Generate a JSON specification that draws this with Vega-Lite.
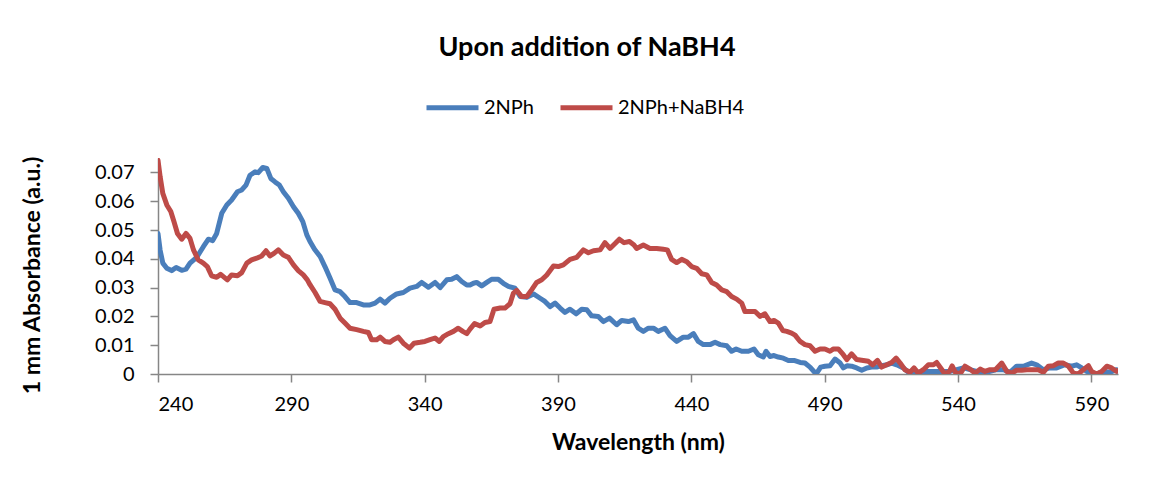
{
  "$schema": "https://vega.github.io/schema/vega-lite/v6.json",
  "autosize": "none",
  "width": 960,
  "height": 216,
  "padding": {"left": 158, "top": 158, "right": 33, "bottom": 111},
  "background": "white",
  "title": {
    "text": "Upon addition of NaBH4",
    "font": "Lato",
    "fontSize": 27,
    "fontWeight": "bold",
    "color": "#000000",
    "anchor": "middle",
    "frame": "group",
    "dx": -51,
    "offset": 17
  },
  "datasets": {
    "spectra": [
      {"w": 240, "a": 0.0488, "s": "2NPh"},
      {"w": 240.8, "a": 0.043, "s": "2NPh"},
      {"w": 241.8, "a": 0.0385, "s": "2NPh"},
      {"w": 243.3, "a": 0.0367, "s": "2NPh"},
      {"w": 245.1, "a": 0.0359, "s": "2NPh"},
      {"w": 246.8, "a": 0.037, "s": "2NPh"},
      {"w": 248.9, "a": 0.036, "s": "2NPh"},
      {"w": 250.5, "a": 0.0364, "s": "2NPh"},
      {"w": 252, "a": 0.0385, "s": "2NPh"},
      {"w": 254.5, "a": 0.0405, "s": "2NPh"},
      {"w": 257, "a": 0.0442, "s": "2NPh"},
      {"w": 258.9, "a": 0.0468, "s": "2NPh"},
      {"w": 260.5, "a": 0.0463, "s": "2NPh"},
      {"w": 262, "a": 0.0488, "s": "2NPh"},
      {"w": 263.9, "a": 0.0558, "s": "2NPh"},
      {"w": 265.8, "a": 0.0587, "s": "2NPh"},
      {"w": 267.6, "a": 0.0604, "s": "2NPh"},
      {"w": 269.8, "a": 0.0633, "s": "2NPh"},
      {"w": 271.4, "a": 0.0639, "s": "2NPh"},
      {"w": 273, "a": 0.0656, "s": "2NPh"},
      {"w": 274.5, "a": 0.069, "s": "2NPh"},
      {"w": 276.4, "a": 0.0702, "s": "2NPh"},
      {"w": 277.6, "a": 0.0699, "s": "2NPh"},
      {"w": 279.3, "a": 0.0717, "s": "2NPh"},
      {"w": 280.8, "a": 0.0714, "s": "2NPh"},
      {"w": 282.3, "a": 0.0679, "s": "2NPh"},
      {"w": 283.9, "a": 0.0667, "s": "2NPh"},
      {"w": 285.5, "a": 0.0656, "s": "2NPh"},
      {"w": 287, "a": 0.0633, "s": "2NPh"},
      {"w": 288.9, "a": 0.061, "s": "2NPh"},
      {"w": 290.8, "a": 0.0581, "s": "2NPh"},
      {"w": 292.6, "a": 0.0558, "s": "2NPh"},
      {"w": 294.3, "a": 0.0529, "s": "2NPh"},
      {"w": 295.8, "a": 0.0483, "s": "2NPh"},
      {"w": 297, "a": 0.046, "s": "2NPh"},
      {"w": 298.7, "a": 0.0433, "s": "2NPh"},
      {"w": 300.8, "a": 0.0408, "s": "2NPh"},
      {"w": 302.6, "a": 0.0373, "s": "2NPh"},
      {"w": 304.5, "a": 0.0333, "s": "2NPh"},
      {"w": 306.4, "a": 0.0292, "s": "2NPh"},
      {"w": 308.3, "a": 0.0286, "s": "2NPh"},
      {"w": 310.1, "a": 0.0269, "s": "2NPh"},
      {"w": 312, "a": 0.0248, "s": "2NPh"},
      {"w": 314.5, "a": 0.0248, "s": "2NPh"},
      {"w": 317, "a": 0.024, "s": "2NPh"},
      {"w": 319.5, "a": 0.024, "s": "2NPh"},
      {"w": 321.4, "a": 0.0246, "s": "2NPh"},
      {"w": 323.3, "a": 0.026, "s": "2NPh"},
      {"w": 325.1, "a": 0.0246, "s": "2NPh"},
      {"w": 327, "a": 0.0263, "s": "2NPh"},
      {"w": 329.5, "a": 0.0278, "s": "2NPh"},
      {"w": 332, "a": 0.0283, "s": "2NPh"},
      {"w": 334.5, "a": 0.0298, "s": "2NPh"},
      {"w": 337, "a": 0.0304, "s": "2NPh"},
      {"w": 338.9, "a": 0.0318, "s": "2NPh"},
      {"w": 341.4, "a": 0.0301, "s": "2NPh"},
      {"w": 343.9, "a": 0.0318, "s": "2NPh"},
      {"w": 345.8, "a": 0.03, "s": "2NPh"},
      {"w": 348.3, "a": 0.0327, "s": "2NPh"},
      {"w": 350.1, "a": 0.0329, "s": "2NPh"},
      {"w": 352, "a": 0.0338, "s": "2NPh"},
      {"w": 353.9, "a": 0.0321, "s": "2NPh"},
      {"w": 355.8, "a": 0.0309, "s": "2NPh"},
      {"w": 357, "a": 0.0309, "s": "2NPh"},
      {"w": 358.3, "a": 0.0315, "s": "2NPh"},
      {"w": 359.5, "a": 0.0318, "s": "2NPh"},
      {"w": 361.4, "a": 0.0306, "s": "2NPh"},
      {"w": 363.3, "a": 0.0318, "s": "2NPh"},
      {"w": 365.1, "a": 0.0329, "s": "2NPh"},
      {"w": 367.6, "a": 0.0329, "s": "2NPh"},
      {"w": 369.5, "a": 0.0315, "s": "2NPh"},
      {"w": 371.4, "a": 0.0304, "s": "2NPh"},
      {"w": 373.9, "a": 0.0298, "s": "2NPh"},
      {"w": 375.8, "a": 0.0269, "s": "2NPh"},
      {"w": 378.3, "a": 0.0266, "s": "2NPh"},
      {"w": 380.8, "a": 0.0278, "s": "2NPh"},
      {"w": 383.3, "a": 0.0263, "s": "2NPh"},
      {"w": 385.1, "a": 0.0252, "s": "2NPh"},
      {"w": 387, "a": 0.0234, "s": "2NPh"},
      {"w": 388.9, "a": 0.0246, "s": "2NPh"},
      {"w": 390.8, "a": 0.0229, "s": "2NPh"},
      {"w": 392.6, "a": 0.0214, "s": "2NPh"},
      {"w": 394.5, "a": 0.0225, "s": "2NPh"},
      {"w": 396.8, "a": 0.0209, "s": "2NPh"},
      {"w": 398.9, "a": 0.0225, "s": "2NPh"},
      {"w": 400.8, "a": 0.0223, "s": "2NPh"},
      {"w": 402.6, "a": 0.0202, "s": "2NPh"},
      {"w": 405.1, "a": 0.02, "s": "2NPh"},
      {"w": 407, "a": 0.0182, "s": "2NPh"},
      {"w": 409.3, "a": 0.0194, "s": "2NPh"},
      {"w": 412, "a": 0.0171, "s": "2NPh"},
      {"w": 413.9, "a": 0.0186, "s": "2NPh"},
      {"w": 416.4, "a": 0.0182, "s": "2NPh"},
      {"w": 418.3, "a": 0.0188, "s": "2NPh"},
      {"w": 420.1, "a": 0.0159, "s": "2NPh"},
      {"w": 422, "a": 0.0148, "s": "2NPh"},
      {"w": 423.9, "a": 0.0159, "s": "2NPh"},
      {"w": 425.8, "a": 0.0159, "s": "2NPh"},
      {"w": 427.6, "a": 0.0148, "s": "2NPh"},
      {"w": 430.1, "a": 0.0159, "s": "2NPh"},
      {"w": 432, "a": 0.0133, "s": "2NPh"},
      {"w": 434.5, "a": 0.0113, "s": "2NPh"},
      {"w": 437, "a": 0.0128, "s": "2NPh"},
      {"w": 438.9, "a": 0.0128, "s": "2NPh"},
      {"w": 440.8, "a": 0.014, "s": "2NPh"},
      {"w": 442.6, "a": 0.0113, "s": "2NPh"},
      {"w": 444.5, "a": 0.0102, "s": "2NPh"},
      {"w": 447, "a": 0.0102, "s": "2NPh"},
      {"w": 448.9, "a": 0.011, "s": "2NPh"},
      {"w": 450.8, "a": 0.0102, "s": "2NPh"},
      {"w": 453.3, "a": 0.0098, "s": "2NPh"},
      {"w": 455.1, "a": 0.0079, "s": "2NPh"},
      {"w": 456.8, "a": 0.0087, "s": "2NPh"},
      {"w": 458.9, "a": 0.0079, "s": "2NPh"},
      {"w": 461.4, "a": 0.0079, "s": "2NPh"},
      {"w": 463.5, "a": 0.0087, "s": "2NPh"},
      {"w": 465.1, "a": 0.0067, "s": "2NPh"},
      {"w": 467, "a": 0.0059, "s": "2NPh"},
      {"w": 468, "a": 0.0079, "s": "2NPh"},
      {"w": 469.5, "a": 0.0061, "s": "2NPh"},
      {"w": 471, "a": 0.0064, "s": "2NPh"},
      {"w": 472.6, "a": 0.0059, "s": "2NPh"},
      {"w": 474.5, "a": 0.0055, "s": "2NPh"},
      {"w": 476.4, "a": 0.0047, "s": "2NPh"},
      {"w": 478.5, "a": 0.0047, "s": "2NPh"},
      {"w": 480.8, "a": 0.004, "s": "2NPh"},
      {"w": 482.6, "a": 0.0038, "s": "2NPh"},
      {"w": 484.5, "a": 0.0024, "s": "2NPh"},
      {"w": 486.8, "a": 0.0, "s": "2NPh"},
      {"w": 488.5, "a": 0.0024, "s": "2NPh"},
      {"w": 490.1, "a": 0.0027, "s": "2NPh"},
      {"w": 492, "a": 0.0029, "s": "2NPh"},
      {"w": 493.9, "a": 0.0052, "s": "2NPh"},
      {"w": 495.8, "a": 0.0038, "s": "2NPh"},
      {"w": 497, "a": 0.0021, "s": "2NPh"},
      {"w": 498.5, "a": 0.0029, "s": "2NPh"},
      {"w": 500.1, "a": 0.0027, "s": "2NPh"},
      {"w": 502, "a": 0.0021, "s": "2NPh"},
      {"w": 503.9, "a": 0.0013, "s": "2NPh"},
      {"w": 505.8, "a": 0.0021, "s": "2NPh"},
      {"w": 507.6, "a": 0.0024, "s": "2NPh"},
      {"w": 509.5, "a": 0.0024, "s": "2NPh"},
      {"w": 511.4, "a": 0.0029, "s": "2NPh"},
      {"w": 513.3, "a": 0.0032, "s": "2NPh"},
      {"w": 515.1, "a": 0.0038, "s": "2NPh"},
      {"w": 517, "a": 0.0032, "s": "2NPh"},
      {"w": 519.5, "a": 0.0021, "s": "2NPh"},
      {"w": 521.4, "a": 0.0006, "s": "2NPh"},
      {"w": 523.3, "a": 0.0009, "s": "2NPh"},
      {"w": 525.1, "a": 0.0006, "s": "2NPh"},
      {"w": 527, "a": 0.0009, "s": "2NPh"},
      {"w": 529.5, "a": 0.0009, "s": "2NPh"},
      {"w": 532, "a": 0.0009, "s": "2NPh"},
      {"w": 534.5, "a": 0.0009, "s": "2NPh"},
      {"w": 537, "a": 0.0009, "s": "2NPh"},
      {"w": 539.5, "a": 0.0015, "s": "2NPh"},
      {"w": 542, "a": 0.0021, "s": "2NPh"},
      {"w": 544.5, "a": 0.0015, "s": "2NPh"},
      {"w": 547, "a": 0.0009, "s": "2NPh"},
      {"w": 549.5, "a": 0.0009, "s": "2NPh"},
      {"w": 552, "a": 0.0009, "s": "2NPh"},
      {"w": 554.5, "a": 0.0015, "s": "2NPh"},
      {"w": 557, "a": 0.0015, "s": "2NPh"},
      {"w": 559.5, "a": 0.0006, "s": "2NPh"},
      {"w": 562, "a": 0.0027, "s": "2NPh"},
      {"w": 564.5, "a": 0.0027, "s": "2NPh"},
      {"w": 567.6, "a": 0.0038, "s": "2NPh"},
      {"w": 569.5, "a": 0.0032, "s": "2NPh"},
      {"w": 572, "a": 0.0015, "s": "2NPh"},
      {"w": 574.5, "a": 0.0021, "s": "2NPh"},
      {"w": 577, "a": 0.0021, "s": "2NPh"},
      {"w": 580.1, "a": 0.0032, "s": "2NPh"},
      {"w": 582.6, "a": 0.0027, "s": "2NPh"},
      {"w": 584.5, "a": 0.0032, "s": "2NPh"},
      {"w": 586.4, "a": 0.0021, "s": "2NPh"},
      {"w": 588.3, "a": 0.0009, "s": "2NPh"},
      {"w": 590.1, "a": 0.0003, "s": "2NPh"},
      {"w": 592, "a": 0.0, "s": "2NPh"},
      {"w": 594.5, "a": 0.0009, "s": "2NPh"},
      {"w": 597, "a": 0.0006, "s": "2NPh"},
      {"w": 599.5, "a": 0.0015, "s": "2NPh"},
      {"w": 600, "a": 0.001, "s": "2NPh"},

      {"w": 240, "a": 0.0742, "s": "2NPh+NaBH4"},
      {"w": 240.8, "a": 0.0685, "s": "2NPh+NaBH4"},
      {"w": 241.8, "a": 0.0627, "s": "2NPh+NaBH4"},
      {"w": 243.3, "a": 0.0587, "s": "2NPh+NaBH4"},
      {"w": 244.8, "a": 0.0564, "s": "2NPh+NaBH4"},
      {"w": 246, "a": 0.0529, "s": "2NPh+NaBH4"},
      {"w": 247.3, "a": 0.0488, "s": "2NPh+NaBH4"},
      {"w": 248.9, "a": 0.0468, "s": "2NPh+NaBH4"},
      {"w": 250.5, "a": 0.0488, "s": "2NPh+NaBH4"},
      {"w": 252, "a": 0.0471, "s": "2NPh+NaBH4"},
      {"w": 253.3, "a": 0.0431, "s": "2NPh+NaBH4"},
      {"w": 255.1, "a": 0.0396, "s": "2NPh+NaBH4"},
      {"w": 257, "a": 0.0385, "s": "2NPh+NaBH4"},
      {"w": 258.5, "a": 0.0373, "s": "2NPh+NaBH4"},
      {"w": 260.1, "a": 0.0341, "s": "2NPh+NaBH4"},
      {"w": 262, "a": 0.0336, "s": "2NPh+NaBH4"},
      {"w": 263.5, "a": 0.0346, "s": "2NPh+NaBH4"},
      {"w": 266, "a": 0.0327, "s": "2NPh+NaBH4"},
      {"w": 267.6, "a": 0.0344, "s": "2NPh+NaBH4"},
      {"w": 269.8, "a": 0.0341, "s": "2NPh+NaBH4"},
      {"w": 271.4, "a": 0.0352, "s": "2NPh+NaBH4"},
      {"w": 273.3, "a": 0.0385, "s": "2NPh+NaBH4"},
      {"w": 275.1, "a": 0.0396, "s": "2NPh+NaBH4"},
      {"w": 277, "a": 0.0402, "s": "2NPh+NaBH4"},
      {"w": 278.9, "a": 0.041, "s": "2NPh+NaBH4"},
      {"w": 280.5, "a": 0.0428, "s": "2NPh+NaBH4"},
      {"w": 282, "a": 0.041, "s": "2NPh+NaBH4"},
      {"w": 283.5, "a": 0.0419, "s": "2NPh+NaBH4"},
      {"w": 285.1, "a": 0.0431, "s": "2NPh+NaBH4"},
      {"w": 287, "a": 0.0413, "s": "2NPh+NaBH4"},
      {"w": 288.9, "a": 0.0405, "s": "2NPh+NaBH4"},
      {"w": 290.8, "a": 0.0379, "s": "2NPh+NaBH4"},
      {"w": 292.6, "a": 0.0359, "s": "2NPh+NaBH4"},
      {"w": 294.5, "a": 0.0344, "s": "2NPh+NaBH4"},
      {"w": 296, "a": 0.0327, "s": "2NPh+NaBH4"},
      {"w": 297, "a": 0.031, "s": "2NPh+NaBH4"},
      {"w": 298.9, "a": 0.0283, "s": "2NPh+NaBH4"},
      {"w": 300.8, "a": 0.0252, "s": "2NPh+NaBH4"},
      {"w": 302.6, "a": 0.0248, "s": "2NPh+NaBH4"},
      {"w": 304.5, "a": 0.0244, "s": "2NPh+NaBH4"},
      {"w": 306.4, "a": 0.0225, "s": "2NPh+NaBH4"},
      {"w": 308.3, "a": 0.0194, "s": "2NPh+NaBH4"},
      {"w": 310.1, "a": 0.0177, "s": "2NPh+NaBH4"},
      {"w": 312, "a": 0.0159, "s": "2NPh+NaBH4"},
      {"w": 314.5, "a": 0.0154, "s": "2NPh+NaBH4"},
      {"w": 317, "a": 0.0148, "s": "2NPh+NaBH4"},
      {"w": 318.9, "a": 0.0144, "s": "2NPh+NaBH4"},
      {"w": 320.1, "a": 0.0119, "s": "2NPh+NaBH4"},
      {"w": 322, "a": 0.0119, "s": "2NPh+NaBH4"},
      {"w": 323.3, "a": 0.0128, "s": "2NPh+NaBH4"},
      {"w": 325.1, "a": 0.0113, "s": "2NPh+NaBH4"},
      {"w": 327, "a": 0.011, "s": "2NPh+NaBH4"},
      {"w": 328.3, "a": 0.0119, "s": "2NPh+NaBH4"},
      {"w": 330.1, "a": 0.0128, "s": "2NPh+NaBH4"},
      {"w": 332, "a": 0.0107, "s": "2NPh+NaBH4"},
      {"w": 334.3, "a": 0.009, "s": "2NPh+NaBH4"},
      {"w": 336, "a": 0.0107, "s": "2NPh+NaBH4"},
      {"w": 338.3, "a": 0.011, "s": "2NPh+NaBH4"},
      {"w": 340.1, "a": 0.0113, "s": "2NPh+NaBH4"},
      {"w": 342, "a": 0.0119, "s": "2NPh+NaBH4"},
      {"w": 343.9, "a": 0.0125, "s": "2NPh+NaBH4"},
      {"w": 345.5, "a": 0.0113, "s": "2NPh+NaBH4"},
      {"w": 347, "a": 0.013, "s": "2NPh+NaBH4"},
      {"w": 348.9, "a": 0.014, "s": "2NPh+NaBH4"},
      {"w": 350.8, "a": 0.0148, "s": "2NPh+NaBH4"},
      {"w": 352.6, "a": 0.0159, "s": "2NPh+NaBH4"},
      {"w": 354.3, "a": 0.0148, "s": "2NPh+NaBH4"},
      {"w": 355.8, "a": 0.014, "s": "2NPh+NaBH4"},
      {"w": 357, "a": 0.0156, "s": "2NPh+NaBH4"},
      {"w": 358.7, "a": 0.0175, "s": "2NPh+NaBH4"},
      {"w": 360.8, "a": 0.0167, "s": "2NPh+NaBH4"},
      {"w": 362.6, "a": 0.0179, "s": "2NPh+NaBH4"},
      {"w": 364.5, "a": 0.0182, "s": "2NPh+NaBH4"},
      {"w": 366, "a": 0.0225, "s": "2NPh+NaBH4"},
      {"w": 368.3, "a": 0.0229, "s": "2NPh+NaBH4"},
      {"w": 370.1, "a": 0.0229, "s": "2NPh+NaBH4"},
      {"w": 372, "a": 0.0244, "s": "2NPh+NaBH4"},
      {"w": 373.3, "a": 0.0281, "s": "2NPh+NaBH4"},
      {"w": 374.5, "a": 0.029, "s": "2NPh+NaBH4"},
      {"w": 376.4, "a": 0.0269, "s": "2NPh+NaBH4"},
      {"w": 378.3, "a": 0.0269, "s": "2NPh+NaBH4"},
      {"w": 380.1, "a": 0.0292, "s": "2NPh+NaBH4"},
      {"w": 382, "a": 0.0318, "s": "2NPh+NaBH4"},
      {"w": 383.9, "a": 0.0327, "s": "2NPh+NaBH4"},
      {"w": 385.8, "a": 0.0344, "s": "2NPh+NaBH4"},
      {"w": 388.3, "a": 0.0375, "s": "2NPh+NaBH4"},
      {"w": 390.1, "a": 0.0373, "s": "2NPh+NaBH4"},
      {"w": 392, "a": 0.0379, "s": "2NPh+NaBH4"},
      {"w": 394.5, "a": 0.0398, "s": "2NPh+NaBH4"},
      {"w": 397, "a": 0.0405, "s": "2NPh+NaBH4"},
      {"w": 399.5, "a": 0.0431, "s": "2NPh+NaBH4"},
      {"w": 401.4, "a": 0.0421, "s": "2NPh+NaBH4"},
      {"w": 403.3, "a": 0.0428, "s": "2NPh+NaBH4"},
      {"w": 405.8, "a": 0.0431, "s": "2NPh+NaBH4"},
      {"w": 407.6, "a": 0.0456, "s": "2NPh+NaBH4"},
      {"w": 409.5, "a": 0.0436, "s": "2NPh+NaBH4"},
      {"w": 411.4, "a": 0.0453, "s": "2NPh+NaBH4"},
      {"w": 413, "a": 0.0468, "s": "2NPh+NaBH4"},
      {"w": 414.8, "a": 0.0456, "s": "2NPh+NaBH4"},
      {"w": 416.8, "a": 0.046, "s": "2NPh+NaBH4"},
      {"w": 418.5, "a": 0.0448, "s": "2NPh+NaBH4"},
      {"w": 419.5, "a": 0.0436, "s": "2NPh+NaBH4"},
      {"w": 422, "a": 0.0448, "s": "2NPh+NaBH4"},
      {"w": 424.5, "a": 0.0436, "s": "2NPh+NaBH4"},
      {"w": 427, "a": 0.0436, "s": "2NPh+NaBH4"},
      {"w": 429.5, "a": 0.0433, "s": "2NPh+NaBH4"},
      {"w": 431, "a": 0.0431, "s": "2NPh+NaBH4"},
      {"w": 432.6, "a": 0.0398, "s": "2NPh+NaBH4"},
      {"w": 434.5, "a": 0.0387, "s": "2NPh+NaBH4"},
      {"w": 436.4, "a": 0.0398, "s": "2NPh+NaBH4"},
      {"w": 438.3, "a": 0.039, "s": "2NPh+NaBH4"},
      {"w": 440.1, "a": 0.0373, "s": "2NPh+NaBH4"},
      {"w": 442, "a": 0.0367, "s": "2NPh+NaBH4"},
      {"w": 443.9, "a": 0.0348, "s": "2NPh+NaBH4"},
      {"w": 445.8, "a": 0.0344, "s": "2NPh+NaBH4"},
      {"w": 447.6, "a": 0.0318, "s": "2NPh+NaBH4"},
      {"w": 449.5, "a": 0.0309, "s": "2NPh+NaBH4"},
      {"w": 451.4, "a": 0.0292, "s": "2NPh+NaBH4"},
      {"w": 453.3, "a": 0.0286, "s": "2NPh+NaBH4"},
      {"w": 455.1, "a": 0.0269, "s": "2NPh+NaBH4"},
      {"w": 457, "a": 0.026, "s": "2NPh+NaBH4"},
      {"w": 458.9, "a": 0.0246, "s": "2NPh+NaBH4"},
      {"w": 460.1, "a": 0.0217, "s": "2NPh+NaBH4"},
      {"w": 462, "a": 0.0217, "s": "2NPh+NaBH4"},
      {"w": 463.9, "a": 0.0217, "s": "2NPh+NaBH4"},
      {"w": 465.8, "a": 0.02, "s": "2NPh+NaBH4"},
      {"w": 467.6, "a": 0.0209, "s": "2NPh+NaBH4"},
      {"w": 469.5, "a": 0.0182, "s": "2NPh+NaBH4"},
      {"w": 471, "a": 0.0186, "s": "2NPh+NaBH4"},
      {"w": 472.6, "a": 0.0177, "s": "2NPh+NaBH4"},
      {"w": 474.3, "a": 0.0151, "s": "2NPh+NaBH4"},
      {"w": 475.8, "a": 0.0148, "s": "2NPh+NaBH4"},
      {"w": 477.6, "a": 0.0142, "s": "2NPh+NaBH4"},
      {"w": 478.9, "a": 0.0135, "s": "2NPh+NaBH4"},
      {"w": 480.8, "a": 0.0113, "s": "2NPh+NaBH4"},
      {"w": 482.6, "a": 0.0102, "s": "2NPh+NaBH4"},
      {"w": 484.5, "a": 0.0098, "s": "2NPh+NaBH4"},
      {"w": 486.4, "a": 0.0079, "s": "2NPh+NaBH4"},
      {"w": 488.3, "a": 0.0087, "s": "2NPh+NaBH4"},
      {"w": 490.1, "a": 0.0087, "s": "2NPh+NaBH4"},
      {"w": 492, "a": 0.0079, "s": "2NPh+NaBH4"},
      {"w": 493.3, "a": 0.0087, "s": "2NPh+NaBH4"},
      {"w": 495.1, "a": 0.0087, "s": "2NPh+NaBH4"},
      {"w": 497, "a": 0.0067, "s": "2NPh+NaBH4"},
      {"w": 498.3, "a": 0.005, "s": "2NPh+NaBH4"},
      {"w": 500.1, "a": 0.007, "s": "2NPh+NaBH4"},
      {"w": 502, "a": 0.005, "s": "2NPh+NaBH4"},
      {"w": 504.5, "a": 0.0047, "s": "2NPh+NaBH4"},
      {"w": 506.4, "a": 0.0044, "s": "2NPh+NaBH4"},
      {"w": 508, "a": 0.0032, "s": "2NPh+NaBH4"},
      {"w": 509.8, "a": 0.0047, "s": "2NPh+NaBH4"},
      {"w": 511.4, "a": 0.0024, "s": "2NPh+NaBH4"},
      {"w": 513.3, "a": 0.0032, "s": "2NPh+NaBH4"},
      {"w": 515.1, "a": 0.004, "s": "2NPh+NaBH4"},
      {"w": 516.8, "a": 0.0055, "s": "2NPh+NaBH4"},
      {"w": 518.3, "a": 0.0038, "s": "2NPh+NaBH4"},
      {"w": 520.1, "a": 0.0015, "s": "2NPh+NaBH4"},
      {"w": 522, "a": 0.0006, "s": "2NPh+NaBH4"},
      {"w": 523.5, "a": 0.0021, "s": "2NPh+NaBH4"},
      {"w": 525.1, "a": 0.0003, "s": "2NPh+NaBH4"},
      {"w": 527, "a": 0.0015, "s": "2NPh+NaBH4"},
      {"w": 528.9, "a": 0.0032, "s": "2NPh+NaBH4"},
      {"w": 530.8, "a": 0.0032, "s": "2NPh+NaBH4"},
      {"w": 532, "a": 0.004, "s": "2NPh+NaBH4"},
      {"w": 533.5, "a": 0.0021, "s": "2NPh+NaBH4"},
      {"w": 535.1, "a": 0.0, "s": "2NPh+NaBH4"},
      {"w": 536.8, "a": 0.0009, "s": "2NPh+NaBH4"},
      {"w": 537.8, "a": 0.0028, "s": "2NPh+NaBH4"},
      {"w": 539, "a": 0.0006, "s": "2NPh+NaBH4"},
      {"w": 540.8, "a": 0.0, "s": "2NPh+NaBH4"},
      {"w": 542.6, "a": 0.0027, "s": "2NPh+NaBH4"},
      {"w": 544.5, "a": 0.0017, "s": "2NPh+NaBH4"},
      {"w": 546.4, "a": 0.0003, "s": "2NPh+NaBH4"},
      {"w": 548.3, "a": 0.0017, "s": "2NPh+NaBH4"},
      {"w": 550.1, "a": 0.0009, "s": "2NPh+NaBH4"},
      {"w": 552, "a": 0.0015, "s": "2NPh+NaBH4"},
      {"w": 554, "a": 0.0015, "s": "2NPh+NaBH4"},
      {"w": 556.4, "a": 0.0038, "s": "2NPh+NaBH4"},
      {"w": 558.3, "a": 0.0009, "s": "2NPh+NaBH4"},
      {"w": 560.1, "a": 0.0003, "s": "2NPh+NaBH4"},
      {"w": 562, "a": 0.0013, "s": "2NPh+NaBH4"},
      {"w": 563.9, "a": 0.0013, "s": "2NPh+NaBH4"},
      {"w": 565.8, "a": 0.0015, "s": "2NPh+NaBH4"},
      {"w": 568, "a": 0.0015, "s": "2NPh+NaBH4"},
      {"w": 570.1, "a": 0.0015, "s": "2NPh+NaBH4"},
      {"w": 572, "a": 0.0006, "s": "2NPh+NaBH4"},
      {"w": 573.9, "a": 0.0027, "s": "2NPh+NaBH4"},
      {"w": 575.8, "a": 0.0029, "s": "2NPh+NaBH4"},
      {"w": 577.6, "a": 0.0038, "s": "2NPh+NaBH4"},
      {"w": 579.5, "a": 0.0038, "s": "2NPh+NaBH4"},
      {"w": 581.4, "a": 0.0027, "s": "2NPh+NaBH4"},
      {"w": 583.3, "a": 0.0003, "s": "2NPh+NaBH4"},
      {"w": 585.1, "a": 0.0, "s": "2NPh+NaBH4"},
      {"w": 587, "a": 0.0015, "s": "2NPh+NaBH4"},
      {"w": 588.9, "a": 0.0029, "s": "2NPh+NaBH4"},
      {"w": 590.1, "a": 0.0009, "s": "2NPh+NaBH4"},
      {"w": 592, "a": 0.0, "s": "2NPh+NaBH4"},
      {"w": 593.9, "a": 0.0009, "s": "2NPh+NaBH4"},
      {"w": 595.8, "a": 0.0027, "s": "2NPh+NaBH4"},
      {"w": 597.6, "a": 0.0021, "s": "2NPh+NaBH4"},
      {"w": 599.5, "a": 0.0009, "s": "2NPh+NaBH4"},
      {"w": 600, "a": 0.0012, "s": "2NPh+NaBH4"}
    ]
  },
  "data": {"name": "spectra"},
  "mark": {"type": "line", "strokeWidth": 5, "strokeCap": "round", "strokeJoin": "round", "clip": true},
  "encoding": {
    "x": {
      "field": "w",
      "type": "quantitative",
      "scale": {"domain": [240, 600], "nice": false, "zero": false},
      "axis": {
        "title": "Wavelength (nm)",
        "values": [240, 290, 340, 390, 440, 490, 540, 590],
        "format": "d",
        "grid": false,
        "tickSize": 8,
        "labelPadding": 12,
        "titlePadding": 17
      }
    },
    "y": {
      "field": "a",
      "type": "quantitative",
      "scale": {"domain": [0, 0.075], "nice": false},
      "axis": {
        "title": "1 mm Absorbance (a.u.)",
        "titleY": 117,
        "values": [0, 0.01, 0.02, 0.03, 0.04, 0.05, 0.06, 0.07],
        "format": ".2~f",
        "grid": false,
        "tickSize": 8,
        "labelPadding": 16,
        "titlePadding": 50
      }
    },
    "color": {
      "field": "s",
      "type": "nominal",
      "scale": {"domain": ["2NPh", "2NPh+NaBH4"], "range": ["#4a7ebb", "#be4b48"]},
      "legend": {
        "title": null,
        "orient": "none",
        "direction": "horizontal",
        "legendX": 266,
        "legendY": -79,
        "symbolType": "stroke",
        "symbolSize": 2704,
        "symbolStrokeWidth": 5,
        "labelOffset": 3,
        "columnPadding": 16
      }
    }
  },
  "config": {
    "font": "Lato",
    "view": {"stroke": null},
    "axis": {
      "domainColor": "#868686",
      "domainWidth": 1.5,
      "tickColor": "#868686",
      "tickWidth": 1.5,
      "labelFont": "Lato",
      "labelFontSize": 20,
      "labelColor": "#000000",
      "titleFont": "Lato",
      "titleFontSize": 23,
      "titleFontWeight": "bold",
      "titleColor": "#000000"
    },
    "legend": {
      "labelFont": "Lato",
      "labelFontSize": 20,
      "labelColor": "#000000"
    }
  }
}
